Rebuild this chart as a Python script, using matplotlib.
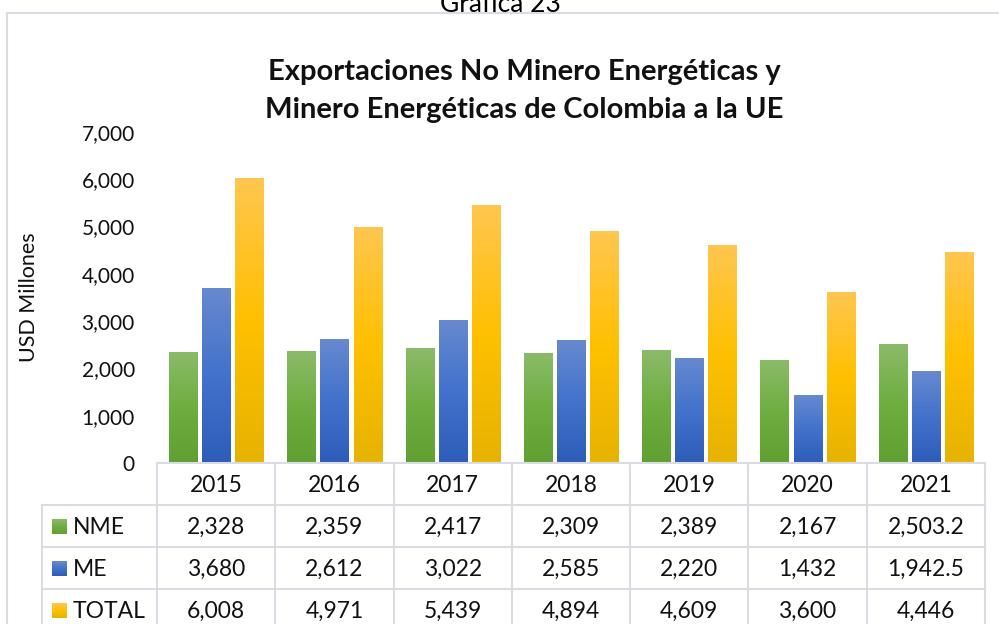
import numpy as np
import matplotlib
matplotlib.use("Agg")
import matplotlib.pyplot as plt
from matplotlib.colors import LinearSegmentedColormap

plt.rcParams['font.family'] = ['Lato', 'DejaVu Sans']

years = ['2015', '2016', '2017', '2018', '2019', '2020', '2021']
nme = [2328, 2359, 2417, 2309, 2389, 2167, 2503.2]
me = [3680, 2612, 3022, 2585, 2220, 1432, 1942.5]
total = [6008, 4971, 5439, 4894, 4609, 3600, 4446]
nme_lbl = ['2,328', '2,359', '2,417', '2,309', '2,389', '2,167', '2,503.2']
me_lbl = ['3,680', '2,612', '3,022', '2,585', '2,220', '1,432', '1,942.5']
total_lbl = ['6,008', '4,971', '5,439', '4,894', '4,609', '3,600', '4,446']
series_names = ['NME', 'ME', 'TOTAL']
yticks = [0, 1000, 2000, 3000, 4000, 5000, 6000, 7000]

grads = {
    'NME': ['#8BBB69', '#6EAE40', '#60A032'],
    'ME': ['#6789CF', '#4272CC', '#2D5DB8'],
    'TOTAL': ['#FFC650', '#FFC000', '#E6B300'],
}

W, H = 999, 624
fig = plt.figure(figsize=(W / 100, H / 100), dpi=100)

def fx(px):
    return px / W

def fy(py):
    return 1 - py / H

# chart border
border = plt.Rectangle((fx(6.5), fy(700)), fx(1200), fy(12.5) - fy(700),
                       transform=fig.transFigure, fill=False,
                       edgecolor='#D9DDE3', lw=1.5)
fig.patches.append(border)

fig.text(fx(500), fy(12), 'Gráfica 23', ha='center', va='baseline', fontsize=19, color='black')
fig.text(fx(524), fy(72), 'Exportaciones No Minero Energéticas y', ha='center', va='center',
         fontsize=21, fontweight='bold', color='#111111')
fig.text(fx(524), fy(110), 'Minero Energéticas de Colombia a la UE', ha='center', va='center',
         fontsize=21, fontweight='bold', color='#111111')

left, right, top, bottom = 157, 985, 132, 463
ax = fig.add_axes([fx(left), fy(bottom), fx(right - left), fy(top) - fy(bottom)])
ax.set_facecolor('none')

x = np.arange(len(years))
bw = 0.237
offsets = [-0.28, 0.0, 0.28]
for name, vals, off in zip(series_names, [nme, me, total], offsets):
    bars = ax.bar(x + off, vals, width=bw, color='none', edgecolor='none')
    cmap = LinearSegmentedColormap.from_list(name, grads[name][::-1])
    grad = np.linspace(1, 0, 256).reshape(-1, 1)
    for r in bars:
        ax.imshow(grad, cmap=cmap, extent=(r.get_x(), r.get_x() + r.get_width(), 0, r.get_height()),
                  aspect='auto', origin='upper', zorder=2, interpolation='bilinear')

ax.set_xlim(-0.5, len(years) - 0.5)
ax.set_ylim(0, 7000)
ax.set_yticks(yticks)
ax.set_yticklabels([f'{v:,}' for v in yticks], fontsize=15, color='#111111')
ax.tick_params(axis='y', length=0, pad=16)
ax.set_xticks([])
for s in ax.spines.values():
    s.set_visible(False)

fig.text(fx(29), fy(297), 'USD Millones', rotation=90, ha='center', va='center', fontsize=15.5, color='#111111')

# table
tax = fig.add_axes([0, 0, 1, 1])
tax.set_xlim(0, W)
tax.set_ylim(H, 0)
tax.axis('off')
tax.set_facecolor('none')
gc = '#D9DDE3'
lw = 1.5
cellw = (right - left) / len(years)
tab_bottom = 640
tax.plot([left, right], [bottom, bottom], color=gc, lw=lw, clip_on=False)
for yy in [505, 547, 589]:
    tax.plot([42, right], [yy, yy], color=gc, lw=lw, clip_on=False)
tax.plot([42, 42], [505, tab_bottom], color=gc, lw=lw, clip_on=False)
for i in range(len(years) + 1):
    xx = left + i * cellw
    tax.plot([xx, xx], [bottom, tab_bottom], color=gc, lw=lw, clip_on=False)

fs = 16.5
for i, yr in enumerate(years):
    cx = left + (i + 0.5) * cellw
    tax.text(cx, 485, yr, ha='center', va='center', fontsize=fs, color='#111111')
    for row, labels in enumerate([nme_lbl, me_lbl, total_lbl]):
        tax.text(cx, 527 + 42 * row, labels[i], ha='center', va='center', fontsize=fs, color='#111111')

for row, name in enumerate(series_names):
    cy = 527 + 42 * row
    cmap = LinearSegmentedColormap.from_list(name + 'l', grads[name][::-1])
    grad = np.linspace(1, 0, 64).reshape(-1, 1)
    tax.imshow(grad, cmap=cmap, extent=(52, 67, cy + 7.5, cy - 7.5), aspect='auto',
               origin='upper', interpolation='bilinear')
    tax.text(73, cy, name, ha='left', va='center', fontsize=fs, color='#111111')
tax.set_xlim(0, W)
tax.set_ylim(H, 0)

fig.savefig('out.png', dpi=100)
